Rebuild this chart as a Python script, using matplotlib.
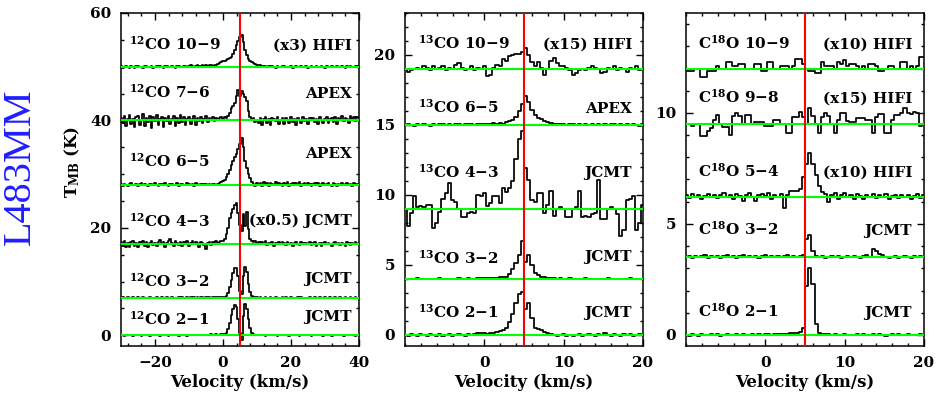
import numpy as np
import matplotlib
matplotlib.use("Agg")
import matplotlib.pyplot as plt
from matplotlib.ticker import MultipleLocator, FixedLocator

# ---------------------------------------------------------------------------
# Data (T_MB above each baseline, K); channels are uniform per panel
# ---------------------------------------------------------------------------
V_LSR = 5.0

# 12CO: channels from -30 to 40 km/s, 0.5 km/s wide
co12_v0, co12_dv = -30.0, 0.5
co12_offsets = [50, 40, 28, 17, 7, 0]
co12_trans = ["10−9", "7−6", "6−5", "4−3", "3−2", "2−1"]
co12_notes = ["(x3) HIFI", "APEX", "APEX", "(x0.5) JCMT", "JCMT", "JCMT"]

co12_1009 = [
    0.1, -0.2, 0.0, 0.2, -0.1, -0.3, 0.1, 0.0, -0.2, 0.1,
    0.2, -0.1, 0.0, -0.2, 0.1, 0.2, -0.1, 0.0, 0.1, -0.2,
    0.0, 0.1, -0.1, 0.2, 0.0, -0.2, 0.1, 0.2, 0.0, -0.1,
    0.1, 0.0, -0.2, 0.1, 0.2, 0.0, -0.1, 0.1, 0.2, 0.0,
    0.1, 0.3, 0.1, 0.0, 0.2, 0.3, 0.1, 0.2, 0.4, 0.2,
    0.3, 0.2, 0.4, 0.3, 0.2, 0.4, 0.3, 0.5,
    0.6, 0.9, 1.1, 1.0, 1.2, 1.4, 1.7, 1.8, 2.3, 3.2,
    4.0, 4.8, 5.6, 5.9, 4.6, 3.2, 2.2, 1.5, 1.0, 0.8,
    0.6, 0.5,
    0.4, 0.3, 0.3, 0.2, 0.1, 0.2, 0.0, 0.1, -0.1, 0.1,
    0.0, -0.2, 0.1, 0.0, -0.1, 0.1, 0.2, 0.0, -0.1, 0.0,
    0.1, -0.2, 0.0, 0.1, -0.1, 0.0, 0.2, -0.1, 0.0, 0.1,
    -0.2, 0.0, 0.1, -0.1, 0.0, 0.2, 0.0, -0.1, 0.1, 0.0,
    -0.2, 0.1, 0.0, -0.1, 0.1, 0.0, -0.1, 0.2, 0.0, -0.1,
    0.1, 0.0, -0.2, 0.1, 0.0, 0.1, -0.1, 0.0, 0.2, 0.1,
    0.2,
]
co12_0706 = [
    0.5, -0.4, 0.8, -1.0, 0.3, 1.1, -0.6, 0.2, -1.3, 0.7,
    0.9, -0.8, 0.1, 1.2, -1.1, 0.4, -0.3, 0.8, -1.4, 0.6,
    -0.2, 1.0, -0.9, 0.3, 0.7, -1.2, 0.5, -0.1, 0.9, -0.7,
    0.2, 0.8, -1.0, 0.4, -0.5, 1.1, -0.3, 0.6, -0.9, 0.3,
    0.7, -0.6, 0.2, 0.9, -0.8, 0.4, -0.2, 0.6, -0.5, 0.3,
    0.8, -0.3, 0.5, 0.1, 0.6, -0.2, 0.4, 0.3,
    0.4, 0.6, 0.3, 0.7, 0.5, 0.9, 1.4, 2.3, 2.6, 3.3,
    4.5, 5.7, 4.6, 5.5, 5.0, 4.4, 3.6, 1.8, 0.6, 0.2,
    0.4, -0.3,
    0.1, -0.5, 0.4, -0.8, 0.3, 0.6, -0.4, 0.2, -0.9, 0.5,
    0.3, -0.2, 0.7, -0.6, 0.1, 0.4, -0.7, 0.5, 0.0, -0.4,
    0.6, -0.3, 0.2, -0.8, 0.4, 0.1, -0.5, 0.7, -0.2, 0.3,
    -0.6, 0.4, 0.0, 0.5, -0.3, 0.2, -0.7, 0.6, 0.1, -0.4,
    0.3, 0.7, -0.5, 0.2, 0.4, -0.3, 0.6, -0.6, 0.5, 0.2,
    0.8, -0.2, 0.5, 0.3, -0.4, 0.9, 0.2, 0.6, -0.1, 0.7,
    0.4,
]
co12_0605 = [
    0.1, -0.2, 0.2, 0.0, -0.3, 0.1, 0.3, -0.1, 0.0, 0.2,
    -0.2, 0.1, 0.3, -0.1, 0.2, 0.0, -0.3, 0.2, 0.1, -0.1,
    0.3, 0.0, -0.2, 0.2, 0.1, -0.1, 0.4, 0.0, -0.2, 0.1,
    0.2, -0.1, 0.0, 0.3, -0.2, 0.1, 0.2, 0.0, -0.1, 0.3,
    0.1, 0.0, 0.2, -0.2, 0.3, 0.1, 0.0, 0.2, -0.1, 0.1,
    0.2, 0.0, 0.1, -0.1, 0.2, 0.1, 0.0, 0.2,
    0.3, 0.5, 0.7, 1.0, 1.5, 2.0, 2.8, 3.7, 4.4, 5.1,
    5.8, 6.6, 7.6, 8.7, 7.0, 4.5, 3.2, 2.0, 1.2, 0.5,
    0.1, -0.2,
    0.3, 0.0, 0.4, -0.2, 0.5, 0.1, 0.3, -0.3, 0.4, 0.2,
    0.0, 0.5, -0.1, 0.3, 0.2, -0.3, 0.4, 0.1, 0.5, -0.2,
    0.2, 0.4, -0.1, 0.3, 0.0, 0.5, -0.2, 0.2, 0.3, -0.1,
    0.4, 0.1, -0.3, 0.2, 0.3, 0.0, 0.4, -0.2, 0.1, 0.3,
    -0.1, 0.2, 0.4, 0.0, -0.2, 0.3, 0.1, -0.3, 0.2, 0.0,
    0.3, -0.1, 0.2, 0.4, 0.0, 0.1, -0.2, 0.3, 0.1, 0.2,
    0.0,
]
co12_0403 = [
    0.4, -0.3, 0.6, -0.5, 0.2, -0.6, 0.3, 0.5, -0.4, 0.1,
    -0.6, 0.3, 0.0, 0.5, -0.3, 0.4, -0.5, 0.2, 0.6, -0.2,
    0.1, -0.4, 0.4, 0.7, -0.1, 0.3, -0.5, 0.2, 0.5, 0.9,
    0.2, -0.3, 0.6, 0.1, -0.2, 0.4, -0.4, 0.3, 0.0, 0.5,
    -0.3, 0.2, 0.6, -0.1, 0.4, 0.1, -0.5, 0.3, 0.2, -0.2,
    -1.0, 0.1, 0.3, -0.2, 0.4, 0.2, 0.5, 0.1,
    0.3, 0.5, 0.6, 1.0, 1.8, 3.0, 4.8, 5.8, 6.6, 7.3,
    7.7, 5.8, 3.5, 2.5, 5.6, 3.4, 5.9, 2.8, 1.0, 0.6,
    0.3, 0.5,
    0.2, 0.4, -0.1, 0.3, 0.0, 0.5, -0.2, 0.2, 0.1, 0.4,
    -0.3, 0.2, 0.0, 0.3, -0.1, 0.4, 0.1, -0.2, 0.3, 0.0,
    0.2, -0.3, 0.1, 0.4, 0.0, -0.2, 0.3, 0.1, -0.1, 0.2,
    0.0, 0.3, -0.2, 0.1, 0.4, -0.3, 0.0, 0.2, -0.4, 0.1,
    0.3, -0.1, 0.2, 0.0, -0.3, 0.2, 0.4, -0.1, 0.1, -0.2,
    0.2, 0.0, -0.3, 0.3, 0.1, -0.2, 0.2, 0.0, 0.3, -0.1,
    0.1,
]
co12_0302 = [
    0.0, 0.1, -0.1, 0.0, 0.1, 0.0, -0.1, 0.1, 0.0, 0.0,
    0.1, -0.1, 0.0, 0.1, 0.0, -0.1, 0.0, 0.1, 0.0, -0.1,
    0.0, 0.1, 0.0, -0.1, 0.1, 0.0, 0.0, 0.1, -0.1, 0.0,
    0.1, 0.0, -0.1, 0.0, 0.1, 0.0, 0.1, -0.1, 0.0, 0.1,
    0.0, 0.1, 0.0, 0.1, -0.1, 0.1, 0.0, 0.1, 0.1, 0.0,
    0.1, 0.2, 0.1, 0.0, 0.1, 0.2, 0.1, 0.2,
    0.1, 0.1, 0.1, 0.2, 0.3, 0.9, 2.0, 3.3, 4.5, 5.5,
    5.6, 4.0, 1.2, 0.6, 4.0, 5.7, 4.8, 2.6, 1.0, 0.4,
    0.2, 0.1,
    0.1, 0.0, 0.1, 0.0, -0.1, 0.1, 0.0, 0.0, 0.1, -0.1,
    0.0, 0.1, 0.0, -0.1, 0.0, 0.1, 0.0, 0.1, -0.1, 0.0,
    0.1, 0.0, 0.0, -0.1, 0.1, 0.0, 0.1, 0.0, -0.1, 0.0,
    0.0, 0.1, -0.1, 0.0, 0.1, 0.0, 0.0, 0.1, -0.1, 0.0,
    0.1, 0.0, -0.1, 0.1, 0.0, 0.0, 0.1, -0.1, 0.0, 0.1,
    0.0, -0.1, 0.1, 0.0, 0.0, 0.1, -0.1, 0.0, 0.1, 0.0,
    0.0,
]
co12_0201 = [
    0.1, 0.0, -0.1, 0.1, 0.0, 0.0, 0.1, -0.1, 0.0, 0.1,
    0.0, 0.1, -0.1, 0.0, 0.0, 0.1, 0.0, -0.1, 0.1, 0.0,
    0.1, 0.0, 0.0, -0.1, 0.0, 0.1, 0.1, 0.0, -0.1, 0.0,
    0.0, 0.1, 0.0, 0.0, -0.1, 0.1, 0.0, 0.1, 0.0, -0.1,
    0.1, 0.0, 0.1, 0.0, 0.1, 0.0, 0.1, 0.1, 0.0, 0.1,
    0.1, 0.1, 0.0, 0.2, 0.1, 0.1, 0.2, 0.1,
    0.1, 0.2, 0.2, 0.3, 0.5, 1.2, 2.3, 3.8, 4.8, 5.6,
    5.2, 3.0, 0.5, -0.8, 3.5, 5.9, 4.8, 3.0, 1.3, 0.4,
    0.2, 0.1,
    0.1, 0.1, 0.0, 0.1, 0.0, -0.1, 0.1, 0.0, 0.1, 0.0,
    0.0, 0.1, -0.1, 0.0, 0.1, 0.0, 0.0, 0.1, 0.0, -0.1,
    0.0, 0.1, 0.0, 0.0, 0.1, -0.1, 0.0, 0.1, 0.0, 0.0,
    0.1, 0.0, -0.1, 0.0, 0.1, 0.0, 0.1, 0.0, 0.0, -0.1,
    0.0, 0.1, 0.0, 0.1, -0.1, 0.0, 0.0, 0.1, 0.0, 0.0,
    0.1, -0.1, 0.0, 0.1, 0.0, 0.0, 0.1, 0.0, -0.1, 0.0,
    0.1,
]

# 13CO and C18O: channels from -10 to 20 km/s, 0.4 km/s wide
iso_v0, iso_dv = -10.0, 0.4

co13_offsets = [19, 15, 9, 4, 0]
co13_trans = ["10−9", "6−5", "4−3", "3−2", "2−1"]
co13_notes = ["(x15) HIFI", "APEX", "JCMT", "JCMT", "JCMT"]

co13_1009 = [
    0.0, -0.2, -0.1, 0.0, 0.1, 0.0, 0.2, 0.1, -0.1, 0.2,
    0.0, 0.1, 0.2, -0.1, 0.1, 0.0, 0.3, 0.4, 0.1, -0.1,
    0.0, 0.2, -0.1, 0.1, 0.0, 0.2, -0.5, -0.4, 0.1, 0.3,
    0.2, 0.7, 0.6, 0.9, 1.0, 1.1, 1.1, 1.2, 1.5, 1.0,
    0.5, 0.2, 0.5, 0.1, -0.4, 0.0, 0.6, 0.8, 0.4, 0.2,
    0.2, 0.1, -0.1, -0.4, -0.3, -0.1, 0.0, -0.1, 0.1, 0.2,
    0.1, 0.0, -0.3, -0.2, 0.1, 0.0, 0.2, -0.1, 0.1, 0.0,
    -0.2, 0.1, 0.0, 0.2, -0.1, 0.0,
]
co13_0605 = [
    0.0, 0.05, 0.0, -0.05, 0.05, 0.0, 0.05, 0.0, -0.05, 0.05,
    0.0, 0.05, 0.1, 0.0, 0.05, 0.0, 0.05, 0.1, 0.0, 0.05,
    0.1, 0.05, 0.0, 0.1, 0.05, 0.1, 0.05, 0.1, 0.15, 0.1,
    0.15, 0.1, 0.2, 0.3, 0.35, 0.6, 1.0, 1.5, 2.05, 1.65,
    1.05, 0.7, 0.5, 0.4, 0.3, 0.2, 0.15, 0.1, 0.1, 0.05,
    0.05, 0.0, 0.05, 0.1, 0.0, 0.05, 0.0, 0.05, 0.0, 0.05,
    0.0, 0.1, 0.0, 0.05, 0.0, 0.05, 0.1, 0.0, 0.05, 0.0,
    0.05, 0.0, 0.05, 0.0, -0.05, 0.05,
]
co13_0403 = [
    0.0, -1.2, -0.3, 0.9, 0.1, 0.2, 0.1, 0.3, 0.3, -1.35,
    -1.0, -0.2, 0.7, 1.1, 1.85, 0.65, 0.5, 0.0, -0.55, -0.6,
    -0.3, -0.2, -0.3, 1.0, 0.9, 1.15, 0.2, 0.4, 0.9, 0.9,
    0.4, 1.5, 1.2, 1.5, 2.0, 3.6, 5.0, 5.6, 2.9, 2.1,
    0.6, 0.5, 1.15, 1.1, -0.3, 0.3, 1.25, -0.5, 0.0, 0.1,
    0.0, -0.6, -0.6, 0.0, 0.1, 1.25, -0.6, -0.5, -0.6, -0.4,
    -0.3, 2.1, -0.75, -0.7, 0.0, 0.1, 0.0, -0.4, -1.95, -1.5,
    0.65, 0.7, 0.9, -1.5, -1.0, 0.3,
]
co13_0302 = [
    0.0, 0.02, -0.02, 0.0, 0.03, 0.0, -0.02, 0.02, 0.0, 0.02,
    0.0, 0.03, 0.0, 0.02, 0.0, -0.02, 0.02, 0.03, 0.0, 0.02,
    0.03, 0.0, 0.02, 0.03, 0.05, 0.04, 0.05, 0.06, 0.08, 0.07,
    0.1, 0.12, 0.15, 0.35, 0.7, 1.1, 1.7, 2.7, 1.2, 1.7,
    1.0, 0.45, 0.25, 0.15, 0.1, 0.08, 0.05, 0.04, 0.02, 0.03,
    0.0, 0.02, 0.03, 0.0, -0.02, 0.02, 0.0, 0.03, 0.0, 0.02,
    0.0, -0.02, 0.02, 0.0, 0.03, 0.0, 0.02, -0.02, 0.0, 0.02,
    0.0, 0.03, 0.0, -0.02, 0.02, 0.0,
]
co13_0201 = [
    0.0, -0.05, 0.05, 0.0, -0.05, 0.05, 0.0, -0.1, 0.05, 0.0,
    -0.05, 0.05, -0.1, 0.0, 0.05, -0.05, 0.0, 0.05, 0.0, -0.05,
    0.05, 0.0, 0.05, 0.1, 0.15, 0.1, 0.05, 0.1, 0.15, 0.2,
    0.3, 0.35, 0.5, 0.9, 1.5, 2.3, 2.9, 3.05, 1.85, 2.3,
    1.2, 0.5, 0.45, 0.35, 0.2, 0.1, 0.05, 0.0, -0.05, 0.0,
    0.05, -0.05, 0.0, -0.1, 0.0, 0.05, -0.05, 0.0, 0.05, 0.0,
    -0.05, 0.05, 0.0, 0.1, 0.0, -0.05, 0.05, 0.0, -0.05, 0.05,
    0.0, 0.05, -0.05, 0.0, 0.05, 0.0,
]

c18o_offsets = [12, 9.5, 6.2, 3.5, 0]
c18o_trans = ["10−9", "9−8", "5−4", "3−2", "2−1"]
c18o_notes = ["(x10) HIFI", "(x15) HIFI", "(x10) HIFI", "JCMT", "JCMT"]

c18o_1009 = [
    -0.1, -0.1, -0.1, 0.0, 0.0, -0.4, -0.4, -0.1, -0.1, -0.1,
    0.1, 0.0, 0.0, 0.3, 0.3, 0.1, 0.1, 0.2, 0.2, 0.0,
    0.0, 0.0, 0.2, 0.2, -0.1, -0.1, 0.3, 0.3, 0.0, 0.0,
    0.1, 0.1, 0.1, 0.0, 0.1, 0.45, 0.45, 0.2, 0.0, -0.1,
    -0.1, -0.2, -0.2, 0.3, 0.1, 0.1, 0.1, 0.0, 0.3, 0.2,
    0.4, 0.1, 0.2, 0.2, 0.1, 0.0, 0.1, 0.0, 0.2, 0.2,
    0.1, -0.1, -0.1, 0.0, 0.1, 0.1, 0.0, 0.0, 0.3, 0.3,
    0.0, 0.1, 0.0, 0.1, 0.5, 0.5,
]
c18o_0908 = [
    0.0, 0.0, -0.1, 0.0, 0.0, -0.55, -0.55, -0.3, -0.2, 0.2,
    0.4, 0.0, -0.15, -0.15, -0.5, 0.35, 0.5, 0.35, 0.0, 0.4,
    0.4, 0.0, 0.1, 0.1, 0.1, -0.1, -0.1, -0.1, 0.2, 0.2,
    0.0, 0.0, -0.4, -0.4, 0.3, 0.3, 0.55, 0.3, 0.0, 0.7,
    0.35, 0.0, -0.4, 0.3, 0.5, 0.35, 0.0, -0.4, 0.2, 0.5,
    0.5, 0.15, 0.1, 0.1, 0.25, 0.25, 0.25, 0.2, 0.2, -0.4,
    0.3, 0.45, 0.45, -0.4, -0.4, 0.2, 0.4, 0.4, 0.5, 0.7,
    0.5, 0.45, 0.55, 0.5, -0.1, 0.0,
]
c18o_0504 = [
    0.1, -0.05, 0.15, 0.0, 0.1, -0.1, 0.05, 0.15, 0.0, 0.1,
    -0.05, 0.1, 0.2, 0.0, 0.1, -0.1, 0.15, 0.05, -0.15, 0.1,
    0.2, 0.0, -0.15, 0.1, 0.15, 0.05, 0.2, -0.1, 0.1, 0.0,
    0.15, -0.5, 0.1, 0.3, 0.3, 0.3, 0.35, 0.9, 1.5, 2.0,
    1.5, 1.0, 0.5, 0.25, 0.15, -0.2, 0.1, 0.2, -0.1, 0.1,
    0.2, 0.0, 0.1, -0.1, 0.15, 0.05, -0.1, 0.1, 0.0, 0.15,
    -0.05, 0.1, 0.0, 0.15, -0.1, 0.05, 0.1, -0.05, 0.1, 0.0,
    0.1, -0.1, 0.05, 0.15, -0.05, 0.1,
]
c18o_0302 = [
    0.0, 0.05, -0.05, 0.05, 0.0, 0.05, 0.1, -0.05, 0.05, 0.0,
    0.05, -0.05, 0.05, 0.1, 0.0, 0.05, -0.05, 0.05, 0.1, 0.0,
    0.05, 0.0, 0.05, -0.05, 0.05, 0.1, 0.0, 0.05, 0.0, 0.05,
    0.0, 0.05, 0.1, 0.0, 0.05, 0.0, 0.05, 0.1, 0.8, 1.0,
    0.3, 0.05, 0.0, 0.05, -0.05, 0.0, 0.05, 0.0, 0.05, -0.05,
    0.0, 0.05, 0.0, 0.05, 0.0, -0.05, 0.05, 0.1, 0.0, 0.35,
    0.3, 0.15, 0.1, 0.0, -0.05, 0.0, 0.05, -0.05, 0.0, 0.05,
    0.0, -0.05, 0.05, 0.0, 0.05, 0.0,
]
c18o_0201 = [
    0.0, -0.03, 0.02, 0.0, -0.03, 0.02, 0.0, -0.02, 0.03, 0.0,
    0.02, -0.03, 0.0, 0.02, 0.0, -0.02, 0.03, 0.0, 0.02, -0.02,
    0.0, 0.02, 0.0, 0.03, 0.0, 0.02, 0.03, 0.0, 0.02, 0.03,
    0.03, 0.05, 0.05, 0.07, 0.1, 0.1, 0.15, 0.3, 2.2, 3.0,
    2.3, 0.5, 0.1, 0.05, 0.03, 0.02, 0.0, 0.02, -0.02, 0.0,
    0.02, 0.0, -0.02, 0.0, 0.02, 0.0, 0.03, 0.0, -0.02, 0.02,
    0.0, 0.02, 0.0, -0.03, 0.0, 0.02, 0.0, 0.02, -0.02, 0.0,
    0.02, 0.0, -0.02, 0.0, 0.02, 0.0,
]

# ---------------------------------------------------------------------------
# Style
# ---------------------------------------------------------------------------
plt.rcParams.update({
    "font.family": "DejaVu Serif",
    "font.weight": "bold",
    "font.size": 11,
    "axes.labelweight": "bold",
    "mathtext.fontset": "dejavuserif",
    "mathtext.default": "regular",
    "axes.linewidth": 1.1,
    "xtick.direction": "in",
    "ytick.direction": "in",
    "xtick.top": True,
    "ytick.right": True,
    "xtick.minor.visible": True,
    "ytick.minor.visible": True,
    "xtick.major.size": 5,
    "ytick.major.size": 5,
    "xtick.minor.size": 2.5,
    "ytick.minor.size": 2.5,
    "xtick.major.width": 1.0,
    "ytick.major.width": 1.0,
    "xtick.minor.width": 1.0,
    "ytick.minor.width": 1.0,
    "xtick.major.pad": 7,
    "ytick.major.pad": 7,
})

GREEN = "#00ff00"
RED = "#ff0000"

W, H = 936, 401
fig = plt.figure(figsize=(W / 100, H / 100), dpi=100)


def add_panel(x0, x1, y0=13, y1=346):
    return fig.add_axes([x0 / W, 1 - y1 / H, (x1 - x0) / W, (y1 - y0) / H])


def draw_panel(ax, v0, dv, spectra, offsets, species, trans, notes,
               xlim, ylim, xticks, xmin, ymaj, ymin, lab_y, note_y, lab_x, note_x):
    for vals, off in zip(spectra, offsets):
        v = v0 + dv * np.arange(len(vals))
        ax.plot(v, off + np.array(vals), drawstyle="steps-mid",
                color="black", lw=1.25, zorder=2)
    for off in offsets:
        ax.axhline(off, color=GREEN, lw=1.5, zorder=3)
    ax.axvline(V_LSR, color=RED, lw=1.5, zorder=4)

    for t, yy in zip(trans, lab_y):
        ax.text(lab_x, yy, species + " " + t, transform=ax.transAxes,
                ha="left", va="baseline", fontsize=11, zorder=5)
    for n, yy in zip(notes, note_y):
        ax.text(note_x, yy, n, transform=ax.transAxes,
                ha="right", va="baseline", fontsize=11, zorder=5)

    ax.set_xlim(*xlim)
    ax.set_ylim(*ylim)
    ax.xaxis.set_major_locator(FixedLocator(xticks))
    ax.xaxis.set_minor_locator(MultipleLocator(xmin))
    ax.yaxis.set_major_locator(MultipleLocator(ymaj))
    ax.yaxis.set_minor_locator(MultipleLocator(ymin))
    ax.set_xlabel("Velocity (km/s)", fontsize=12, labelpad=3)


ax1 = add_panel(121, 359)
draw_panel(ax1, co12_v0, co12_dv,
           [co12_1009, co12_0706, co12_0605, co12_0403, co12_0302, co12_0201],
           co12_offsets, r"$^{12}$CO", co12_trans, co12_notes,
           (-30, 40), (-2, 60), [-20, 0, 20, 40], 4, 20, 5,
           [0.889, 0.745, 0.538, 0.357, 0.177, 0.063],
           [0.889, 0.745, 0.565, 0.362, 0.189, 0.075], 0.034, 0.97)

ax2 = add_panel(405, 643)
draw_panel(ax2, iso_v0, iso_dv,
           [co13_1009, co13_0605, co13_0403, co13_0302, co13_0201],
           co13_offsets, r"$^{13}$CO", co13_trans, co13_notes,
           (-10, 20), (-0.8, 23), [0, 10, 20], 2, 5, 1,
           [0.892, 0.700, 0.505, 0.246, 0.084],
           [0.892, 0.700, 0.508, 0.255, 0.087], 0.055, 0.954)

ax3 = add_panel(686, 924)
draw_panel(ax3, iso_v0, iso_dv,
           [c18o_1009, c18o_0908, c18o_0504, c18o_0302, c18o_0201],
           c18o_offsets, r"C$^{18}$O", c18o_trans, c18o_notes,
           (-10, 20), (-0.5, 14.5), [0, 10, 20], 2, 5, 1,
           [0.892, 0.730, 0.508, 0.333, 0.087],
           [0.892, 0.730, 0.508, 0.333, 0.087], 0.05, 0.95)

fig.text(72 / W, 1 - 162 / H, r"T$_{\rm MB}$ (K)", rotation=90,
         ha="center", va="center", fontsize=12)
fig.text(20 / W, 1 - 167 / H, "L483MM", rotation=90, ha="center", va="center",
         fontsize=29, fontweight="normal", family="Liberation Serif", color="#1f1fff")

fig.savefig("out.png", dpi=100)
